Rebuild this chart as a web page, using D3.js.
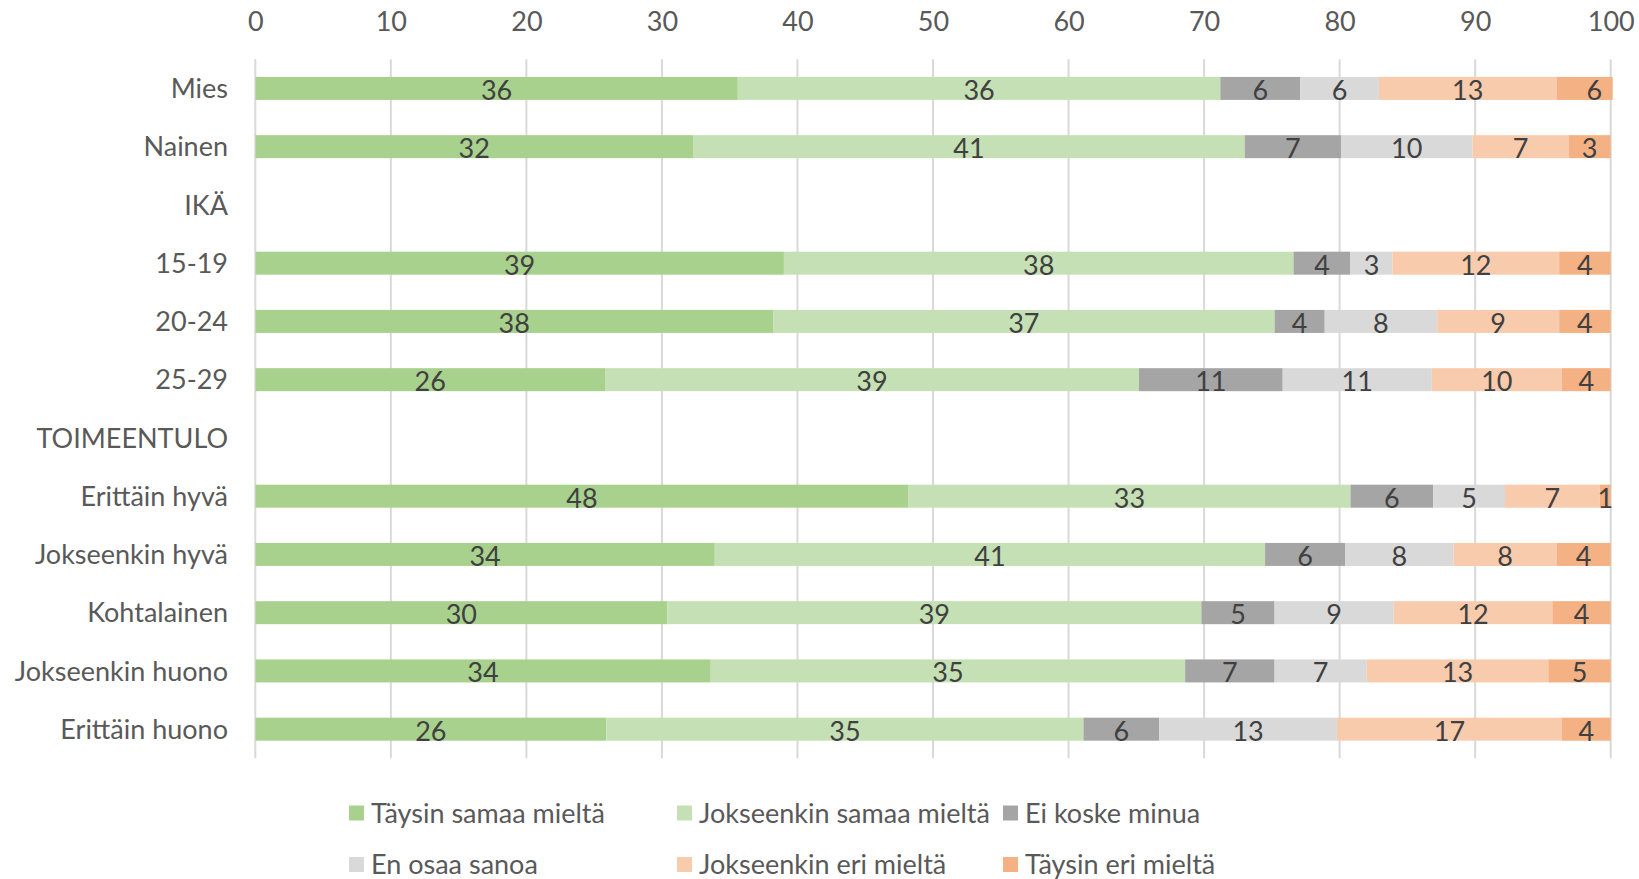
<!DOCTYPE html>
<html>
<head>
<meta charset="utf-8">
<script src="https://cdn.jsdelivr.net/npm/d3@7"></script>
<style>
  body { margin: 0; background: #fff; }
  svg text { font-family: Lato, "Open Sans", sans-serif; }
</style>
</head>
<body>
<svg id="chart" width="1639" height="879"></svg>
<script>
// categories (rows), header rows have no values
var categories = ["Mies", "Nainen", "IKÄ", "15-19", "20-24", "25-29", "TOIMEENTULO",
  "Erittäin hyvä", "Jokseenkin hyvä", "Kohtalainen", "Jokseenkin huono", "Erittäin huono"];

var seriesNames = ["Täysin samaa mieltä", "Jokseenkin samaa mieltä", "Ei koske minua",
  "En osaa sanoa", "Jokseenkin eri mieltä", "Täysin eri mieltä"];

var taysinSamaa     = [35.6, 32.3, null, 39.0, 38.2, 25.8, null, 48.2, 33.9, 30.4, 33.6, 25.9];
var jokseenkinSamaa = [35.6, 40.7, null, 37.6, 37.0, 39.4, null, 32.6, 40.6, 39.4, 35.0, 35.2];
var eiKoske         = [5.9, 7.1, null, 4.2, 3.7, 10.6, null, 6.1, 5.9, 5.4, 6.6, 5.6];
var enOsaa          = [5.8, 9.7, null, 3.1, 8.3, 11.0, null, 5.3, 8.0, 8.8, 6.8, 13.1];
var jokseenkinEri   = [13.1, 7.1, null, 12.3, 9.0, 9.6, null, 7.0, 7.6, 11.7, 13.4, 16.6];
var taysinEri       = [5.6, 3.1, null, 3.8, 3.8, 3.6, null, 0.8, 4.0, 4.3, 4.6, 3.6];

var xTicks = [0, 10, 20, 30, 40, 50, 60, 70, 80, 90, 100];

var colors = ["#A9D18E", "#C5E0B4", "#A5A5A5", "#D9D9D9", "#F8CBAD", "#F4B183"];

var allSeries = [taysinSamaa, jokseenkinSamaa, eiKoske, enOsaa, jokseenkinEri, taysinEri];

// build rows for d3.stack
var rows = categories.map(function(c, i) {
  var r = { cat: c };
  allSeries.forEach(function(s, k) { r["s" + k] = s[i]; });
  return r;
});

var keys = seriesNames.map(function(d, k) { return "s" + k; });
var stacked = d3.stack()
  .keys(keys)
  .value(function(d, key) { return d[key] == null ? 0 : d[key]; })(rows);

var svg = d3.select("#chart");

var plotLeft = 255.3, plotRight = 1610.7, plotTop = 59.3, plotBottom = 758.3;

var x = d3.scaleLinear().domain([0, 100]).range([plotLeft, plotRight]);
var y = d3.scaleBand().domain(categories).range([plotTop, plotBottom])
  .paddingInner(0.605).paddingOuter(0.3025);

var fontSize = 27;

// gridlines
svg.append("g").selectAll("line")
  .data(xTicks)
  .enter().append("line")
  .attr("x1", function(d) { return x(d); })
  .attr("x2", function(d) { return x(d); })
  .attr("y1", plotTop)
  .attr("y2", plotBottom)
  .attr("stroke", "#D9D9D9")
  .attr("stroke-width", 2);

// top axis labels
var xAxis = d3.axisTop(x).tickValues(xTicks).tickSize(0).tickPadding(0);
var gx = svg.append("g").attr("transform", "translate(0,31)").call(xAxis);
gx.select(".domain").remove();
gx.selectAll("text")
  .attr("dy", 0)
  .style("font-size", fontSize + "px")
  .style("font-family", "Lato, sans-serif")
  .attr("fill", "#595959");

// category labels
svg.append("g").selectAll("text")
  .data(categories)
  .enter().append("text")
  .attr("x", 228)
  .attr("y", function(d) { return y(d) + y.bandwidth() / 2; })
  .attr("dy", "0.36em")
  .attr("text-anchor", "end")
  .style("font-size", fontSize + "px")
  .attr("fill", "#595959")
  .text(function(d) { return d; });

// clip bars to the plot area
svg.append("clipPath").attr("id", "plotclip")
  .append("rect")
  .attr("x", plotLeft)
  .attr("y", 0)
  .attr("width", plotRight - plotLeft + 2)
  .attr("height", 879);

var layers = svg.append("g").attr("clip-path", "url(#plotclip)")
  .selectAll("g")
  .data(stacked)
  .enter().append("g")
  .attr("fill", function(d, i) { return colors[i]; });

layers.selectAll("rect")
  .data(function(d) { return d.filter(function(p) { return p.data[d.key] != null; }); })
  .enter().append("rect")
  .attr("x", function(d) { return x(d[0]); })
  .attr("y", function(d) { return y(d.data.cat); })
  .attr("width", function(d) { return x(d[1]) - x(d[0]); })
  .attr("height", y.bandwidth());

// data labels
var labelLayers = svg.append("g")
  .selectAll("g")
  .data(stacked)
  .enter().append("g");

labelLayers.selectAll("text")
  .data(function(d) { return d.filter(function(p) { return p.data[d.key] != null; }); })
  .enter().append("text")
  .attr("x", function(d) { return (x(d[0]) + x(d[1])) / 2; })
  .attr("y", function(d) { return y(d.data.cat) + y.bandwidth() / 2; })
  .attr("dy", "0.42em")
  .attr("text-anchor", "middle")
  .style("font-size", fontSize + "px")
  .attr("fill", "#404040")
  .text(function(d) { return Math.round(d[1] - d[0]); });

// legend
var legendCols = [349, 677, 1003];
var legendRows = [813, 864.5];
var legend = svg.append("g").selectAll("g")
  .data(seriesNames)
  .enter().append("g")
  .attr("transform", function(d, i) {
    return "translate(" + legendCols[i % 3] + "," + legendRows[Math.floor(i / 3)] + ")";
  });

legend.append("rect")
  .attr("x", 0)
  .attr("y", -7.5)
  .attr("width", 15)
  .attr("height", 15)
  .attr("fill", function(d, i) { return colors[i]; });

legend.append("text")
  .attr("x", 22)
  .attr("y", 0)
  .attr("dy", "0.36em")
  .style("font-size", fontSize + "px")
  .attr("fill", "#595959")
  .text(function(d) { return d; });
</script>
</body>
</html>
